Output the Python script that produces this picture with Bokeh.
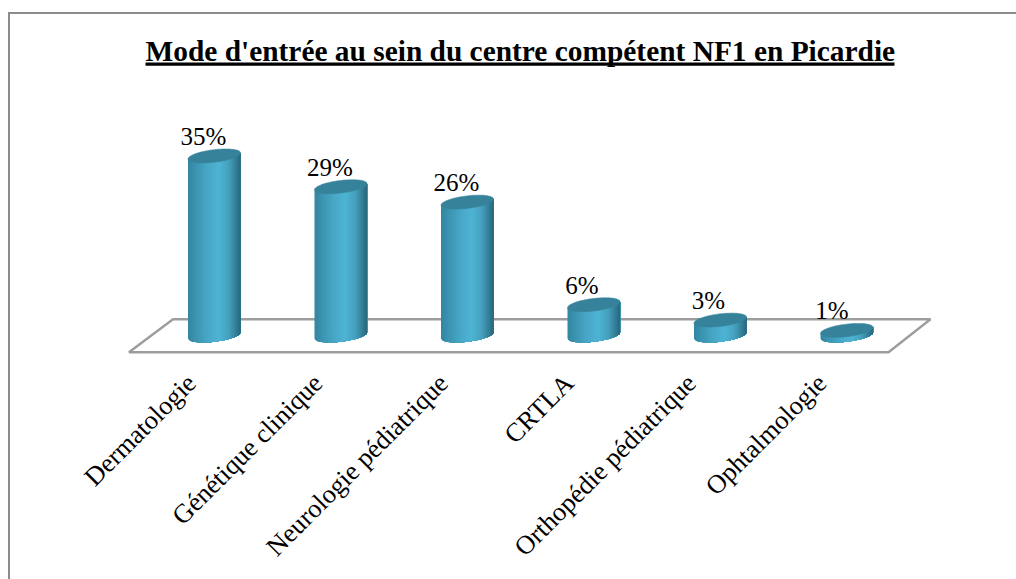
import math
import numpy as np
from bokeh.plotting import figure
from bokeh.embed import file_html
from bokeh.resources import INLINE
from bokeh.core.properties import value
from bokeh.models import (BoxAnnotation, ColumnDataSource, FixedTicker, InlineStyleSheet,
                          LinearAxis, PolyAnnotation, Range1d, Title)

title_text = "Mode d'entrée au sein du centre compétent NF1 en Picardie"
categories = ["Dermatologie", "Génétique clinique", "Neurologie pédiatrique",
              "CRTLA", "Orthopédie pédiatrique", "Ophtalmologie"]
percent_values = [35, 29, 26, 6, 3, 1]
percent_labels = ["35%", "29%", "26%", "6%", "3%", "1%"]

SERIF = "Liberation Serif"
W, H = 1016, 579
STEP, X0 = 126.5, 213.8            # px per category, canvas x of first centre
PPP, Y0 = 5.13, 335.0              # px per percent, canvas y of zero
FR_TOP, FR_BOTTOM = 61, 354        # canvas y of the frame's edges
HALF = 26.3 / STEP                 # cylinder half width, data units
B_PX, SHEAR = 6.3, 0.115           # ellipse half height px; tilt px per px

# the chart's outer border is cut off by the window on the right and at the bottom
frame_css = InlineStyleSheet(css=""":host::after {
  content: ""; position: absolute; left: 8px; top: 12px; right: 0; bottom: 0;
  border-left: 2px solid #8c8c8c; border-top: 2px solid #8c8c8c; pointer-events: none;
}""")

p = figure(width=W, height=H, output_backend="svg", toolbar_location=None,
           x_range=Range1d(-X0 / STEP, (W - X0) / STEP),
           y_range=Range1d((Y0 - FR_BOTTOM) / PPP, (Y0 - FR_TOP) / PPP),
           min_border_left=0, min_border_right=0,
           min_border_top=FR_TOP, min_border_bottom=H - FR_BOTTOM,
           background_fill_color="white", border_fill_color="white",
           outline_line_color=None, stylesheets=[frame_css])
p.xgrid.visible = False
p.ygrid.visible = False
p.xaxis.visible = False
p.yaxis.visible = False

# title
p.title = Title(text=title_text, align="left", offset=145, standoff=-10,
                text_font=SERIF, text_font_style="bold", text_font_size="29.4px",
                text_color="black")

# title underline, at the frame's top edge
p.add_layout(BoxAnnotation(left=145, right=894, top=62, bottom=65.3,
                           left_units="canvas", right_units="canvas",
                           top_units="canvas", bottom_units="canvas",
                           fill_color="black", fill_alpha=1, line_color=None))

# 3-D floor
p.add_layout(PolyAnnotation(xs=[128.5, 172.5, 930, 888], ys=[351.7, 318.7, 318.7, 351.7],
                            xs_units="canvas", ys_units="canvas", level="underlay",
                            fill_alpha=0, line_color="#9d9d9d", line_alpha=1, line_width=2.4))

# gradient stops across the cylinder
stops_t = [0.0, 0.10, 0.35, 0.58, 0.78, 0.92, 1.0]
stops_rgb = np.array([[0x33, 0x86, 0xa2], [0x39, 0x90, 0xac], [0x47, 0xa6, 0xc5],
                      [0x4f, 0xb5, 0xd5], [0x45, 0xa0, 0xbd], [0x32, 0x7c, 0x94],
                      [0x2a, 0x66, 0x7a]])
N = 32
xs, ys, colors = [], [], []
top_xs, top_ys = [], []
for i, v in enumerate(percent_values):
    for k in range(N):
        # each strip runs on to the right edge; the next one paints over it, so no seams
        u = np.linspace(-1 + 2 * k / N, 1, 2 * (N - k) + 1)
        off = np.sqrt(np.clip(1 - u**2, 0, 1)) * B_PX / PPP
        shear = u * HALF * STEP * SHEAR / PPP
        lo = -off + shear
        up = v + shear
        xs.append(list(i + u * HALF) + list(i + u[::-1] * HALF))
        ys.append(list(lo) + list(up[::-1]))
        mid = (k + .5) / N
        rgb = [int(np.interp(mid, stops_t, stops_rgb[:, c])) for c in range(3)]
        colors.append("#%02x%02x%02x" % tuple(rgb))
    t = np.linspace(0, 2 * math.pi, 80)
    u = np.cos(t)
    top_xs.append(list(i + u * HALF))
    top_ys.append(list(v + (np.sin(t) * B_PX + u * HALF * STEP * SHEAR) / PPP))

p.patches(xs, ys, fill_color=colors, line_color=None)
p.patches(top_xs, top_ys, fill_color="#36829b", line_color="#36829b", line_width=0.5)

# value labels
src = ColumnDataSource(dict(x=list(range(len(categories))), y=percent_values, t=percent_labels,
                            dx=[-11, -11, -11, -12, -12, -15]))
p.text("x", "y", text="t", source=src, x_offset="dx", y_offset=-19.5,
       text_align="center", text_baseline="middle",
       text_font=value(SERIF), text_font_size="25px", text_color="black")

# category axis: labels end a little to the left of each cylinder's centre
label_shift = [-23, -23, -24, -25, -29, -25]
ticks = [i + d / STEP for i, d in enumerate(label_shift)]
axis = LinearAxis(ticker=FixedTicker(ticks=ticks),
                  major_label_overrides={t: c for t, c in zip(ticks, categories)},
                  major_label_orientation=math.pi / 4,
                  major_label_text_font=SERIF, major_label_text_font_size="26.4px",
                  major_label_text_color="black", major_label_standoff=18,
                  axis_line_color=None, major_tick_line_color=None,
                  minor_tick_line_color=None)
p.add_layout(axis, "below")

open("out.html", "w").write(file_html(p, INLINE))
